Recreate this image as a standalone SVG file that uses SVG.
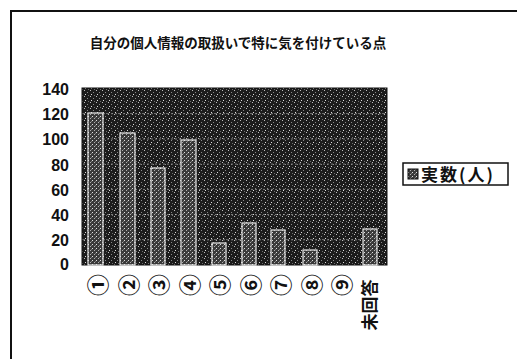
<svg xmlns="http://www.w3.org/2000/svg" width="517" height="359" viewBox="0 0 517 359">
<style>
.t{font-family:"Noto Sans CJK JP","Noto Sans",sans-serif;font-weight:bold;fill:#111}
.ax{font-family:"Liberation Sans",Arial,sans-serif;font-weight:bold;font-size:16px;fill:#111;text-anchor:end}
.xl{font-family:"Noto Sans CJK JP","DejaVu Sans",sans-serif;font-size:22px;font-weight:bold;fill:#111;text-anchor:middle;dominant-baseline:central}
.bar{fill:url(#barpat);stroke:#e8e8e8;stroke-width:1.2}
.grid{stroke:#9a9a9a;stroke-width:0.8;stroke-dasharray:2 2}
</style>
<defs>
<pattern id="plotpat" width="6" height="6" patternUnits="userSpaceOnUse">
<rect width="6" height="6" fill="#1c1c1c"/>
<rect x="0" y="0" width="1" height="1" fill="#bdbdbd"/>
<rect x="3" y="2" width="1" height="1" fill="#8a8a8a"/>
<rect x="1" y="4" width="1" height="1" fill="#dcdcdc"/>
<rect x="4" y="5" width="1" height="1" fill="#6e6e6e"/>
</pattern>
<pattern id="barpat" width="4" height="4" patternUnits="userSpaceOnUse">
<rect width="4" height="4" fill="#3a3a3a"/>
<rect x="0" y="0" width="1" height="1" fill="#e0e0e0"/>
<rect x="2" y="2" width="1" height="1" fill="#b0b0b0"/>
<rect x="3" y="1" width="1" height="1" fill="#777"/>
</pattern>
</defs>
<rect width="517" height="359" fill="#fff"/>
<g id="frame">
<path d="M11 359 V11 H517" fill="none" stroke="#111" stroke-width="2"/>
</g>
<g id="title">
<text class="t" x="238" y="48" font-size="13.5" text-anchor="middle">自分の個人情報の取扱いで特に気を付けている点</text>
</g>
<g id="plot">
<rect x="82" y="88" width="305" height="177" fill="url(#plotpat)" stroke="#111" stroke-width="1"/>
<line class="grid" x1="83" y1="113.7" x2="386" y2="113.7"/>
<line class="grid" x1="83" y1="139" x2="386" y2="139"/>
<line class="grid" x1="83" y1="164.1" x2="386" y2="164.1"/>
<line class="grid" x1="83" y1="189.4" x2="386" y2="189.4"/>
<line class="grid" x1="83" y1="214.6" x2="386" y2="214.6"/>
<line class="grid" x1="83" y1="239.8" x2="386" y2="239.8"/>
</g>
<g id="yaxis">
<text class="ax" x="69" y="95">140</text>
<text class="ax" x="69" y="120">120</text>
<text class="ax" x="69" y="145">100</text>
<text class="ax" x="69" y="171">80</text>
<text class="ax" x="69" y="196">60</text>
<text class="ax" x="69" y="221">40</text>
<text class="ax" x="69" y="246">20</text>
<text class="ax" x="69" y="270">0</text>
</g>
<g id="bars">
<rect class="bar" x="88" y="113" width="15" height="152"/>
<rect class="bar" x="120" y="133" width="15" height="132"/>
<rect class="bar" x="151" y="168" width="14" height="97"/>
<rect class="bar" x="181" y="140" width="15" height="125"/>
<rect class="bar" x="212" y="243" width="14" height="22"/>
<rect class="bar" x="242" y="223" width="14" height="42"/>
<rect class="bar" x="271" y="230" width="14" height="35"/>
<rect class="bar" x="303" y="250" width="14" height="15"/>
<rect class="bar" x="363" y="229" width="14" height="36"/>
</g>
<g id="xaxis">
<text class="xl" transform="translate(96 285) rotate(-90)">①</text>
<text class="xl" transform="translate(127 285) rotate(-90)">②</text>
<text class="xl" transform="translate(157 285) rotate(-90)">③</text>
<text class="xl" transform="translate(188 285) rotate(-90)">④</text>
<text class="xl" transform="translate(218 285) rotate(-90)">⑤</text>
<text class="xl" transform="translate(249 285) rotate(-90)">⑥</text>
<text class="xl" transform="translate(279 285) rotate(-90)">⑦</text>
<text class="xl" transform="translate(310 285) rotate(-90)">⑧</text>
<text class="xl" transform="translate(340 285) rotate(-90)">⑨</text>
<text class="xl" transform="translate(368 305) rotate(-90)" style="font-size:17px">未回答</text>
</g>
<g id="legend">
<rect x="403" y="163" width="105" height="22" fill="#fff" stroke="#111" stroke-width="1.5"/>
<rect x="408" y="169" width="10" height="10" fill="url(#barpat)" stroke="#111" stroke-width="1"/>
<text class="t" x="421" y="181" font-size="17" letter-spacing="2">実数(人)</text>
</g>
</svg>
